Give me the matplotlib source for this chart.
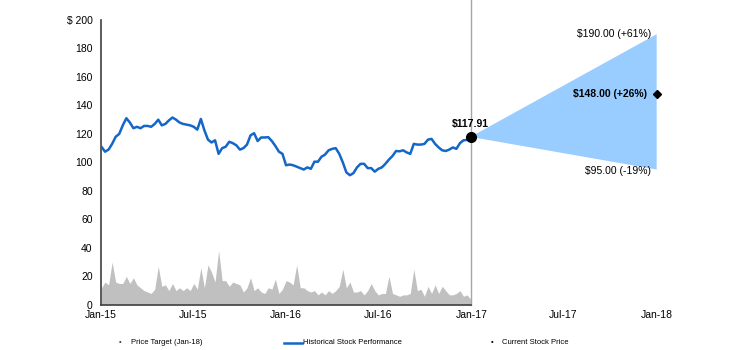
import numpy as np
import pandas as pd
import matplotlib
matplotlib.use('Agg')
import matplotlib.pyplot as plt
import matplotlib.dates as mdates
from matplotlib.lines import Line2D

plt.rcParams['font.family'] = ['Liberation Sans', 'DejaVu Sans']

# weekly closes, Jan-15 .. Dec-16
weeks = pd.date_range('2015-01-02', '2016-12-30', freq='W-FRI')
price = [
    111, 107.5, 109, 113, 118, 120, 126, 131, 128, 124,
    125, 124, 125.6, 125.6, 125, 127, 130, 126, 127, 129.5,
    131.5, 130, 128, 127, 126.5, 126, 125, 123, 130.5, 122.5,
    116, 114, 115.5, 106, 110, 111, 114.5, 113.5, 112, 109,
    110, 112.5, 119, 120.5, 115, 117.5, 117.5, 117.7, 115, 111.5,
    107.5, 106, 98, 98.5, 98, 97, 96, 95, 96.5, 95.5,
    100.5, 100.5, 104, 105.5, 108.5, 109.5, 110, 106, 100, 93,
    91, 92.5, 96.5, 99, 99, 96, 96, 93.5, 95.5, 96.5,
    99, 102, 104.5, 108, 107.8, 108.5, 107, 106, 113, 112.5,
    112.5, 113, 116, 116.5, 113, 110.5, 108.5, 108, 109, 110.5,
    109.5, 113.5, 115.5, 115.8, 117.91,
]
# trading volume (mm shares)
volume = [
    12, 16, 14, 30, 16, 15, 15, 20, 15, 19,
    14, 12, 10, 9, 8, 11, 27, 13, 14, 10,
    15, 10, 12, 10, 12, 10, 15, 11, 26, 12,
    28, 23, 16, 38, 17, 17, 13, 16, 15, 14,
    9, 12, 19, 10, 12, 9, 8, 12, 11, 18,
    8, 11, 17, 16, 14, 28, 12, 12, 10, 9,
    10, 7, 9, 7, 10, 8, 10, 13, 25, 12,
    16, 9, 9, 10, 7, 10, 15, 10, 7, 8,
    8, 20, 8, 7, 6, 7, 7, 8, 25, 10,
    11, 6, 13, 8, 14, 8, 13, 10, 7, 7,
    8, 10, 6, 7, 4,
]

current_price = 117.91
target_date = pd.Timestamp('2018-01-01')
target_low, target_mid, target_high = 95.0, 148.0, 190.0

tick_dates = pd.to_datetime(['2015-01-01', '2015-07-01', '2016-01-01', '2016-07-01',
                             '2017-01-01', '2017-07-01', '2018-01-01'])
tick_labels = ['Jan-15', 'Jul-15', 'Jan-16', 'Jul-16', 'Jan-17', 'Jul-17', 'Jan-18']

BLUE = '#1466c8'
CONE = '#99ccff'

fig = plt.figure(figsize=(7.37, 3.5), dpi=100)
ax = fig.add_axes([0.137, 0.129, 0.754, 0.814])

ax.fill_between(weeks, volume, color='#c0c0c0', lw=0, zorder=1)
ax.plot(weeks, price, color=BLUE, lw=1.8, zorder=3)

last = weeks[-1]
ax.fill([last, target_date, target_date], [current_price, target_high, target_low],
        color=CONE, lw=0, zorder=2)
ax.axvline(last, ymin=0, ymax=1.075, color='#a6a6a6', lw=1.0, clip_on=False, zorder=1)

ax.plot([last], [current_price], 'o', color='black', ms=7, zorder=5)
ax.plot([target_date], [target_mid], 'D', color='black', ms=4, zorder=5, clip_on=False)

ax.annotate(f'${current_price:.2f}', (last, current_price), xytext=(0, 6),
            textcoords='offset points', ha='center', va='bottom',
            fontsize=7.5, fontweight='bold')


def pct(v):
    return f'{(v / current_price - 1) * 100:+.0f}%'


ax.annotate(f'${target_high:.2f} ({pct(target_high)})', (target_date, target_high),
            xytext=(-4, 0), textcoords='offset points', ha='right', va='center',
            fontsize=7.5)
ax.annotate(f'${target_mid:.2f} ({pct(target_mid)})', (target_date, target_mid),
            xytext=(-7, 0), textcoords='offset points', ha='right', va='center',
            fontsize=7.5, fontweight='bold')
ax.annotate(f'${target_low:.2f} ({pct(target_low)})', (target_date, target_low),
            xytext=(-4, -1), textcoords='offset points', ha='right', va='center',
            fontsize=7.5)

ax.set_xlim(pd.Timestamp('2015-01-01'), target_date)
ax.set_ylim(0, 200)
ax.set_xticks(tick_dates)
ax.set_xticklabels(tick_labels)
yt = list(range(0, 201, 20))
ax.set_yticks(yt)
ax.set_yticklabels([str(v) for v in yt[:-1]] + ['$ 200'])
ax.tick_params(axis='both', length=0, labelsize=7.5, colors='black')
ax.tick_params(axis='y', pad=6)
ax.tick_params(axis='x', pad=4)

for s in ['top', 'right']:
    ax.spines[s].set_visible(False)
ax.spines['left'].set_color('#404040')
ax.spines['left'].set_linewidth(1.2)
ax.spines['bottom'].set_color('#404040')
ax.spines['bottom'].set_linewidth(1.2)
ax.spines['bottom'].set_bounds(mdates.date2num(pd.Timestamp('2015-01-01')),
                               mdates.date2num(last))

# legend row under the axis
ly = 0.021
fig.text(0.1634, ly, '\u2022', fontsize=5.5, ha='center', va='center', color='#404040')
fig.text(0.1773, ly, 'Price Target (Jan-18)', fontsize=5.5, va='center')
fig.add_artist(Line2D([0.386, 0.410], [ly, ly], color=BLUE, lw=1.8,
                      transform=fig.transFigure))
fig.text(0.411, ly, 'Historical Stock Performance', fontsize=5.5, va='center')
fig.text(0.6676, ly, '\u2022', fontsize=5.5, ha='center', va='center', color='black')
fig.text(0.681, ly, 'Current Stock Price', fontsize=5.5, va='center')

fig.savefig('out.png', dpi=100)
